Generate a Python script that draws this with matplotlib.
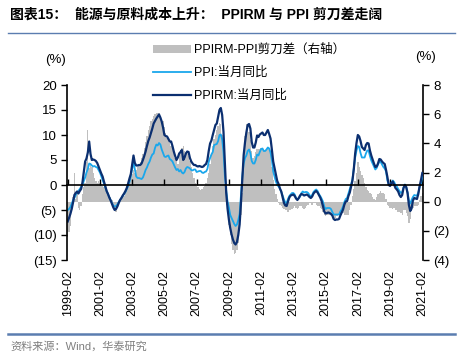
# -*- coding: utf-8 -*-
# PPIRM 与 PPI 剪刀差
import matplotlib
matplotlib.use("Agg")
import matplotlib.pyplot as plt
import numpy as np
from matplotlib.ticker import FuncFormatter, MultipleLocator
from matplotlib.lines import Line2D

plt.rcParams['font.family'] = ['Liberation Sans', 'Noto Sans CJK SC', 'DejaVu Sans']

# 月度数据 1999-02 ~ 2021-02 (%)
start_year, start_month = 1999, 2

ppi = [
    -5.0, -4.8, -4.4, -3.8, -3.0, -2.6, -2.0, -1.5, -1.2, -0.8, -0.4,   # 1999
    0.0, 0.8, 1.5, 2.5, 3.2, 4.3, 4.2, 3.9, 3.7, 3.8, 3.6, 3.5,          # 2000
    3.0, 2.5, 1.8, 1.0, 0.3, -0.5, -1.2, -1.8, -2.5, -3.0, -3.6, -4.1,   # 2001
    -4.3, -4.2, -3.9, -3.4, -3.0, -2.6, -2.2, -1.8, -1.4, -0.8, -0.2, 0.6,  # 2002
    1.8, 3.2, 4.6, 3.2, 1.7, 1.4, 1.4, 1.3, 1.2, 1.5, 2.2, 3.0,          # 2003
    3.5, 4.2, 4.7, 5.5, 6.1, 6.3, 7.4, 8.1, 7.9, 8.4, 8.1, 7.1,          # 2004
    6.4, 5.7, 5.6, 5.8, 5.9, 5.2, 5.0, 4.7, 4.1, 3.5, 3.0, 3.2,          # 2005
    2.7, 3.0, 2.5, 2.3, 2.6, 3.3, 3.6, 3.5, 3.3, 3.0, 2.9, 3.1,          # 2006
    3.1, 2.6, 2.7, 2.8, 2.8, 2.5, 2.4, 2.6, 2.7, 3.2, 4.6, 5.4,          # 2007
    6.1, 6.6, 8.0, 8.1, 8.2, 8.8, 10.0, 10.1, 9.1, 6.6, 2.0, -1.1,       # 2008
    -3.3, -4.5, -6.0, -6.6, -7.2, -7.8, -8.2, -7.9, -7.0, -5.8, -2.1, 1.7,  # 2009
    4.3, 5.4, 5.9, 6.8, 7.1, 6.4, 4.8, 4.3, 4.3, 5.0, 6.1, 5.9,          # 2010
    6.6, 7.2, 7.3, 6.8, 6.8, 7.1, 7.5, 7.3, 6.5, 5.0, 2.7, 1.7,          # 2011
    0.7, 0.0, -0.3, -0.7, -1.4, -2.1, -2.9, -3.5, -3.6, -2.8, -2.2, -1.9,  # 2012
    -1.6, -1.6, -1.9, -2.6, -2.9, -2.7, -2.3, -1.6, -1.3, -1.5, -1.4, -1.4,  # 2013
    -1.6, -2.0, -2.3, -2.0, -1.4, -1.1, -0.9, -1.2, -1.8, -2.2, -2.7, -3.3,  # 2014
    -4.3, -4.8, -4.6, -4.6, -4.6, -4.8, -5.4, -5.9, -5.9, -5.9, -5.9, -5.9,  # 2015
    -5.3, -4.9, -4.3, -3.4, -2.8, -2.6, -1.7, -0.8, 0.1, 1.2, 3.3, 5.5,  # 2016
    6.9, 7.8, 7.6, 6.4, 5.5, 5.5, 5.5, 6.3, 6.9, 6.9, 5.8, 4.9,          # 2017
    4.3, 3.7, 3.1, 3.4, 4.1, 4.7, 4.6, 4.1, 3.6, 3.3, 2.7, 0.9,          # 2018
    0.1, 0.1, 0.4, 0.9, 0.6, 0.0, -0.3, -0.8, -1.2, -1.6, -1.4, -0.5,    # 2019
    0.1, -0.4, -1.5, -3.1, -3.7, -3.0, -2.4, -2.0, -2.1, -2.1, -1.5, -0.4,  # 2020
    0.3, 1.7,                                                             # 2021
]

ppirm = [
    -7.3, -6.6, -5.8, -4.8, -3.5, -2.0, -1.6, -1.3, -1.7, -1.2, -0.8,   # 1999
    0.5, 2.6, 4.7, 5.3, 6.5, 8.7, 6.2, 5.0, 5.1, 5.0, 4.8, 4.4,          # 2000
    3.7, 3.0, 2.3, 1.7, 0.7, -0.2, -1.2, -1.8, -2.5, -3.1, -3.8, -4.5,   # 2001
    -5.0, -4.8, -4.3, -3.6, -3.0, -2.6, -2.1, -1.7, -1.2, -0.6, 0.3, 1.3,  # 2002
    2.2, 4.0, 5.9, 4.4, 3.9, 3.9, 4.0, 4.0, 4.3, 5.0, 5.8, 6.7,          # 2003
    7.8, 8.8, 9.5, 10.4, 11.3, 12.3, 12.8, 13.3, 13.7, 14.1, 13.5, 12.7,  # 2004
    11.5, 10.0, 9.8, 9.7, 9.2, 8.7, 8.7, 7.8, 6.7, 5.8, 5.0, 5.5,        # 2005
    6.3, 6.6, 7.0, 5.0, 5.5, 6.3, 6.7, 6.6, 5.4, 4.7, 4.3, 4.0,          # 2006
    4.0, 3.8, 3.7, 3.8, 3.7, 3.6, 3.7, 4.0, 4.2, 5.0, 6.8, 8.3,          # 2007
    8.9, 10.0, 11.0, 12.0, 12.3, 13.7, 15.0, 15.4, 14.0, 10.6, 4.6, -1.5,  # 2008
    -4.7, -6.9, -8.6, -9.9, -10.9, -11.6, -11.9, -11.4, -10.0, -7.9, -3.6, 1.3,  # 2009
    6.0, 8.5, 10.5, 12.0, 12.2, 11.3, 8.6, 7.5, 7.5, 8.5, 9.9, 9.6,      # 2010
    10.1, 10.3, 10.5, 10.0, 10.0, 10.5, 11.0, 10.2, 9.3, 7.1, 4.7, 3.4,  # 2011
    2.1, 0.8, 0.2, -0.7, -1.3, -2.5, -3.6, -4.1, -4.2, -3.3, -2.5, -2.1,  # 2012
    -2.0, -1.9, -2.2, -2.7, -3.0, -2.6, -2.1, -1.8, -1.9, -2.1, -2.0, -1.9,  # 2013
    -2.1, -2.4, -2.6, -2.3, -1.7, -1.4, -1.2, -1.5, -2.0, -2.5, -3.2, -4.2,  # 2014
    -5.3, -5.7, -5.6, -5.5, -5.6, -5.8, -6.1, -6.8, -7.0, -6.9, -6.9, -6.8,  # 2015
    -6.1, -5.5, -4.9, -3.9, -3.3, -3.2, -2.2, -1.5, -0.3, 0.9, 3.2, 6.3,  # 2016
    8.4, 10.0, 9.7, 8.8, 7.6, 7.3, 7.0, 8.0, 8.4, 8.3, 6.9, 5.9,         # 2017
    5.1, 4.3, 3.6, 3.7, 4.3, 5.2, 5.1, 4.7, 4.4, 4.2, 3.0, 1.6,          # 2018
    0.0, -0.2, 0.4, 0.7, 0.1, -0.6, -0.9, -1.3, -2.0, -2.4, -2.0, -0.6,  # 2019
    0.0, -0.4, -1.6, -4.0, -5.2, -4.7, -3.1, -2.6, -2.7, -2.8, -1.8, -0.2,  # 2020
    1.0, 2.4,                                                             # 2021
]

# PPIRM-PPI 剪刀差 (右轴, 从图上读取)
gap = [
    -2.4, -2.1, -1.7, -0.6, 0.3, 2.0, 0.2, 0.7, -0.4, -0.6, -0.3,       # 1999
    0.5, 1.0, 1.3, 2.7, 4.9, 2.3, 2.6, 2.4, 2.0, 1.6, 1.4, 1.3,          # 2000
    1.4, 1.3, 1.2, 1.1, 1.0, 0.9, 0.7, 0.5, 0.4, 0.3, 0.1, -0.2,         # 2001
    -0.5, -0.7, -0.3, -0.1, 0.1, 0.2, 0.3, 0.4, 0.6, 0.8, 1.0, 1.2,      # 2002
    1.5, 1.9, 2.2, 2.0, 2.2, 2.4, 2.5, 2.7, 3.0, 3.3, 3.7, 4.1,          # 2003
    4.5, 4.9, 5.2, 5.5, 5.7, 5.9, 6.0, 6.1, 6.1, 6.1, 5.9, 5.7,          # 2004
    5.5, 5.1, 4.7, 4.4, 4.2, 4.0, 3.8, 3.6, 3.4, 3.0, 2.8, 2.6,          # 2005
    3.2, 3.4, 3.7, 3.8, 3.5, 3.4, 3.3, 3.1, 2.8, 2.4, 2.0, 1.6,          # 2006
    1.3, 1.1, 1.0, 0.9, 0.8, 0.9, 1.0, 1.1, 1.3, 1.6, 2.0, 2.6,          # 2007
    3.2, 3.8, 4.3, 4.6, 4.9, 5.2, 5.4, 5.3, 4.6, 3.0, 1.2, -0.2,         # 2008
    -0.8, -1.6, -2.3, -2.9, -3.3, -3.6, -3.5, -3.3, -2.8, -2.0, -0.9, 0.6,  # 2009
    2.8, 4.5, 5.3, 5.3, 4.8, 4.2, 3.5, 3.0, 3.1, 3.4, 3.6, 3.6,          # 2010
    3.6, 3.7, 3.6, 3.5, 3.5, 3.6, 3.7, 3.5, 3.2, 2.4, 1.5, 0.9,          # 2011
    0.5, 0.2, -0.1, -0.2, -0.3, -0.4, -0.5, -0.6, -0.6, -0.7, -0.6, -0.6,  # 2012
    -0.5, -0.4, -0.3, -0.4, -0.5, -0.4, -0.3, -0.3, -0.4, -0.5, -0.4, -0.3,  # 2013
    -0.2, -0.1, -0.1, -0.2, -0.1, -0.1, -0.2, -0.3, -0.3, -0.4, -0.5, -0.7,  # 2014
    -0.9, -1.0, -0.9, -0.9, -0.9, -0.9, -1.0, -1.0, -1.1, -1.0, -1.0, -0.9,  # 2015
    -0.9, -0.9, -0.8, -0.9, -0.9, -0.9, -0.9, -0.6, -0.2, 0.4, 0.9, 1.4,  # 2016
    2.0, 2.7, 2.4, 2.1, 1.8, 1.6, 1.3, 1.0, 0.8, 0.7, 0.6, 0.5,          # 2017
    0.3, 0.2, 0.1, 0.3, 0.5, 0.6, 0.7, 0.6, 0.6, 0.5, 0.2, -0.2,         # 2018
    -0.3, -0.4, -0.4, -0.5, -0.4, -0.6, -0.6, -0.7, -0.7, -0.8, -0.9, -0.6,  # 2019
    -0.6, -0.8, -1.0, -1.45, -1.2, -0.6, -0.4, -0.3, -0.3, -0.3, -0.2, 0.1,  # 2020
    0.4, 0.6,                                                             # 2021
]

n = len(ppi)
idx = np.arange(n)

month_labels = []
for i in range(n):
    y = start_year + (start_month - 1 + i) // 12
    m = (start_month - 1 + i) % 12 + 1
    month_labels.append("%d-%02d" % (y, m))
tick_pos = idx[::24]
tick_lab = [month_labels[i] for i in tick_pos]

fig = plt.figure(figsize=(4.72, 3.6), dpi=100)
ax = fig.add_axes([67 / 472, 1 - 260 / 360, 356 / 472, 175 / 360])
ax2 = ax.twinx()

# 剪刀差柱 (右轴)
ax2.bar(idx, gap, width=1.0, color='#BFBFBF', linewidth=0,
        label='PPIRM-PPI剪刀差（右轴）')
ax2.set_ylim(-4, 8)
ax2.yaxis.set_major_locator(MultipleLocator(2))

l1, = ax.plot(idx, ppi, color='#1AA7EC', lw=1.3, label='PPI:当月同比')
l2, = ax.plot(idx, ppirm, color='#0B2F70', lw=1.6, label='PPIRM:当月同比')
ax.set_ylim(-15, 20)
ax.yaxis.set_major_locator(MultipleLocator(5))
ax.set_xlim(-0.5, n - 0.5)

ax.set_zorder(ax2.get_zorder() + 1)
ax.patch.set_visible(False)

fmt = FuncFormatter(lambda v, p: "(%d)" % abs(v) if v < 0 else "%d" % v)
ax.yaxis.set_major_formatter(fmt)
ax2.yaxis.set_major_formatter(fmt)

for a in (ax, ax2):
    a.spines['top'].set_visible(False)
    a.tick_params(axis='y', labelsize=9.5, length=4, width=1, colors='black')
ax2.spines['bottom'].set_visible(False)
ax.spines['right'].set_visible(False)
ax2.spines['left'].set_visible(False)
ax2.spines['right'].set_linewidth(1.2)
ax.spines['left'].set_linewidth(1.2)
ax.yaxis.tick_left()

# x轴在0处，刻度朝上
ax.spines['bottom'].set_position(('data', 0))
ax.spines['bottom'].set_linewidth(1.2)
ax.set_xticks(tick_pos)
ax.tick_params(axis='x', direction='in', length=4, width=1, labelbottom=False)

sec = ax.secondary_xaxis('bottom')
sec.set_xticks(tick_pos, labels=tick_lab, rotation=90)
sec.tick_params(length=0, labelsize=9, pad=7)
sec.spines['bottom'].set_visible(False)

fig.text(56 / 472, 1 - 60 / 360, '(%)', fontsize=9.5, ha='center', va='center')
fig.text(425 / 472, 1 - 57 / 360, '(%)', fontsize=9.5, ha='center', va='center')

h0 = ax2.patches[0]
fig.legend([h0, l1, l2], ['PPIRM-PPI剪刀差（右轴）', 'PPI:当月同比', 'PPIRM:当月同比'],
           loc='upper left', bbox_to_anchor=(153 / 472, 1 - 44 / 360),
           frameon=False, fontsize=9, handlelength=3.0, handletextpad=0.25,
           handleheight=0.6, labelspacing=0.85, borderpad=0, borderaxespad=0)

fig.text(10 / 472, 1 - 15 / 360, '图表15：  能源与原料成本上升：  PPIRM 与 PPI 剪刀差走阔',
         fontsize=10, fontweight='bold', ha='left', va='center')
fig.add_artist(Line2D([8 / 472, 455 / 472], [1 - 33 / 360, 1 - 33 / 360],
                      color='#5B7DB0', lw=1.0))
fig.add_artist(Line2D([8 / 472, 455 / 472], [1 - 334 / 360, 1 - 334 / 360],
                      color='#5B7DB0', lw=1.8))
fig.text(10 / 472, 1 - 346 / 360, '资料来源：Wind，华泰研究', fontsize=8,
         color='#7F7F7F', ha='left', va='center')

fig.savefig('out.png', dpi=100)
